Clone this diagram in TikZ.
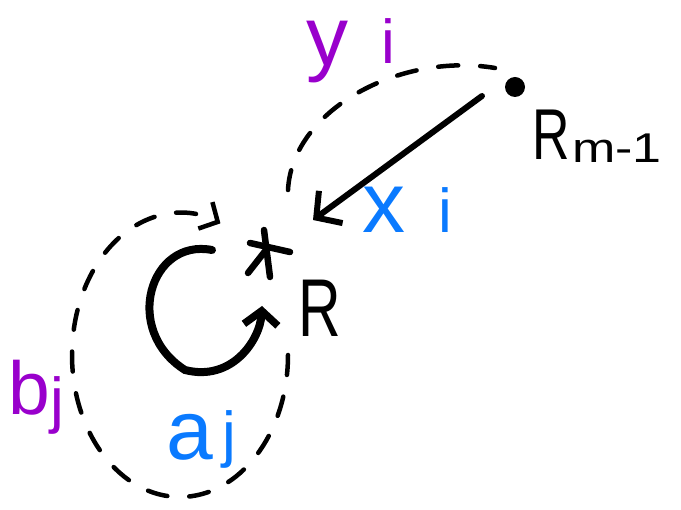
\documentclass[tikz,border=0pt]{standalone}
\usepackage{fontspec}
\setmainfont{Liberation Sans}
\usetikzlibrary{arrows.meta}
\definecolor{hpurple}{RGB}{153,0,204}
\definecolor{hblue}{RGB}{10,122,255}
\tikzset{
  dashline/.style={line width=4.5pt, dash pattern=on 20pt off 22pt, line cap=round},
  solidline/.style={line width=6pt, line cap=round, line join=round},
  barb/.style={-{Straight Barb[length=18pt,width=40pt,line width=6pt]}},
  starline/.style={line width=6.5pt, line cap=round},
  lbl/.style={inner sep=0pt, anchor=base west},
}
\begin{document}
\begin{tikzpicture}[x=1pt,y=-1pt]
\useasboundingbox (0,0) rectangle (681,510);
% point R_{m-1}
\node[circle, fill=black, minimum size=20pt, inner sep=0pt] (rm) at (515,87) {};
\node[lbl] (rmR) at (532,160) {\fontsize{72}{72}\selectfont\scalebox{0.72}[1]{R}};
\node[lbl] (rmsub) at (572,163) {\fontsize{52}{52}\selectfont\scalebox{1}[0.8]{m-1}};
% star R
\coordinate (star) at (266,248);
\draw[starline] (250,243) -- (290,252);
\draw[starline] (264,230) -- (270,277);
\draw[starline] (248,273) -- (266,250);
\node[lbl] (R) at (298,337) {\fontsize{82}{82}\selectfont\scalebox{0.72}[1]{R}};
% main arrow
\coordinate (tip) at (313,220);
\draw[solidline, barb] (rm) ++(-33,9) -- (tip);
% dashed arc y_i
\draw[dashline] (288,190) .. controls (292,110) and (400,52) .. (495,68);
% x_i
\node[lbl, text=hblue] (xi) at (362,233) {\fontsize{86}{86}\selectfont x};
\node[lbl, text=hblue] (xii) at (438,233) {\fontsize{62}{62}\selectfont i};
% y_i
\node[lbl, text=hpurple] (yi) at (306,66) {\fontsize{84}{84}\selectfont y};
\node[lbl, text=hpurple] (yii) at (381,64) {\fontsize{62}{62}\selectfont i};
% dashed ellipse b_j
\draw[dashline, -{Straight Barb[length=14pt,width=30pt,line width=4.5pt]}]
  (288,355) arc[start angle=0, end angle=292, x radius=108, y radius=142];
% inner solid arrow a_j
\draw[line width=8pt, line cap=round, -{Straight Barb[length=14pt,width=34pt,line width=7.5pt]}]
  (212,250) .. controls (150,238) and (122,330) .. (185,370)
  .. controls (232,382) and (260,340) .. (262,306);
% b_j
\node[lbl, text=hpurple] (bj) at (8,415) {\fontsize{75}{75}\selectfont b};
\node[lbl, text=hpurple] (bjj) at (50,422) {\fontsize{62}{62}\selectfont j};
% a_j
\node[lbl, text=hblue] (aj) at (166,460) {\fontsize{84}{84}\selectfont a};
\node[lbl, text=hblue] (ajj) at (222,456) {\fontsize{62}{62}\selectfont j};
\end{tikzpicture}
\end{document}
